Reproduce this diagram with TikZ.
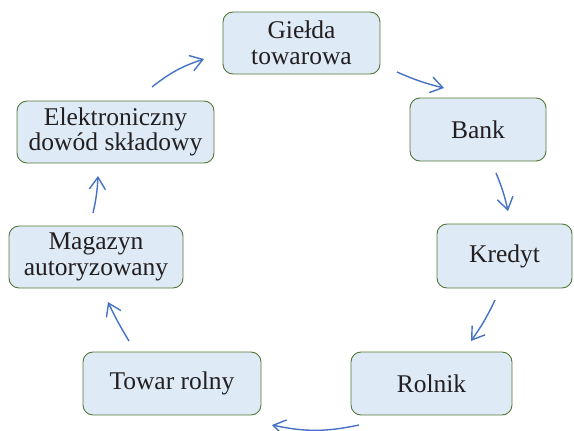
\documentclass[tikz,border=0pt]{standalone}
\usepackage{fontspec}
\setmainfont{Liberation Serif}
\usetikzlibrary{arrows.meta}
\definecolor{boxfill}{HTML}{DEEAF6}
\definecolor{boxline}{HTML}{55783A}
\definecolor{flow}{HTML}{4472C4}
\definecolor{ink}{HTML}{231F20}
\begin{document}
\begin{tikzpicture}[x=1pt,y=-1pt,
  stage/.style={draw=boxline, line width=0.9pt, fill=boxfill, rounded corners=10pt,
    align=center, inner sep=0pt, text=ink,
    font=\fontsize{25.5}{25.5}\selectfont},
  flowarrow/.style={draw=flow, line width=1.4pt,
    -{Straight Barb[length=12pt,width=16pt,line width=1.4pt]}}]
\useasboundingbox (0,0) rectangle (574,431);

% cycle stages
\node[stage, minimum width=157pt, minimum height=62pt] (gielda) at (301.5,43) {Giełda\\towarowa};
\node[stage, minimum width=136pt, minimum height=63pt] (bank) at (478,129.5) {Bank};
\node[stage, minimum width=135pt, minimum height=64pt] (kredyt) at (504.5,256) {Kredyt};
\node[stage, minimum width=161pt, minimum height=63pt] (rolnik) at (431.5,383.5) {Rolnik};
\node[stage, minimum width=178pt, minimum height=63pt] (towar) at (172,383.5) {Towar rolny};
\node[stage, minimum width=174pt, minimum height=62pt] (magazyn) at (96,257) {Magazyn\\autoryzowany};
\node[stage, minimum width=197pt, minimum height=62pt] (edowod) at (115.5,132) {Elektroniczny\\dowód składowy};

% arrow end points between the stages
\coordinate (e1s) at (152,87);  \coordinate (e1e) at (204,59);
\coordinate (g2s) at (397,72);  \coordinate (g2e) at (444,88);
\coordinate (b3s) at (496,173); \coordinate (b3e) at (508,211);
\coordinate (k4s) at (495,300); \coordinate (k4e) at (471,341);
\coordinate (r5s) at (359,425); \coordinate (r5e) at (272,425);
\coordinate (t6s) at (129,341); \coordinate (t6e) at (108,302);
\coordinate (m7s) at (93,213);  \coordinate (m7e) at (98,176);

% flow around the cycle
\draw[flowarrow] (e1s) to[bend left=10] (e1e);
\draw[flowarrow] (g2s) to[bend right=5] (g2e);
\draw[flowarrow] (b3s) to[bend left=5] (b3e);
\draw[flowarrow] (k4s) to[bend left=5] (k4e);
\draw[flowarrow] (r5s) to[bend left=12] (r5e);
\draw[flowarrow] (t6s) to[bend left=3] (t6e);
\draw[flowarrow] (m7s) to[bend right=5] (m7e);
\end{tikzpicture}
\end{document}
